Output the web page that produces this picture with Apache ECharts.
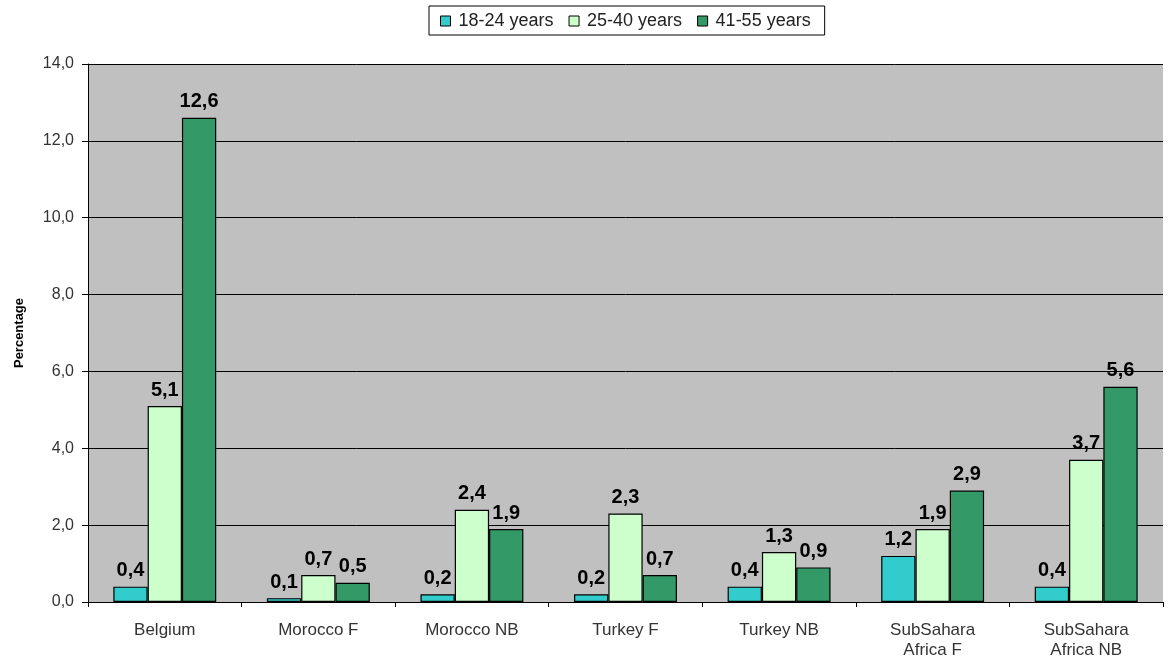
<!DOCTYPE html>
<html>
<head>
<meta charset="utf-8">
<script src="https://cdn.jsdelivr.net/npm/echarts@6/dist/echarts.min.js"></script>
<style>
  html, body { margin: 0; padding: 0; background: #ffffff; }
  #chart { width: 1168px; height: 660px; }
</style>
</head>
<body>
<div id="chart"></div>
<script>
// Categories and series values (percentages)
const categories = ['Belgium', 'Morocco F', 'Morocco NB', 'Turkey F', 'Turkey NB', 'SubSahara\nAfrica F', 'SubSahara\nAfrica NB'];
const seriesNames = ['18-24 years', '25-40 years', '41-55 years'];
const age18to24 = [0.4, 0.1, 0.2, 0.2, 0.4, 1.2, 0.4];
const age25to40 = [5.1, 0.7, 2.4, 2.3, 1.3, 1.9, 3.7];
const age41to55 = [12.6, 0.5, 1.9, 0.7, 0.9, 2.9, 5.6];
const colors = ['#33CCCC', '#CCFFCC', '#339966'];

const fmt = v => v.toFixed(1).replace('.', ',');
const FONT = '"Liberation Sans", Arial, sans-serif';

const chart = echarts.init(document.getElementById('chart'), null, { renderer: 'canvas' });

const makeSeries = (name, data, color) => ({
  name: name,
  type: 'bar',
  data: data,
  barGap: '0%',
  barCategoryGap: '33%',
  itemStyle: { color: color, borderColor: '#000000', borderWidth: 1.2 },
  label: {
    show: true,
    position: 'top',
    distance: 6,
    formatter: p => fmt(p.value),
    fontFamily: FONT,
    fontWeight: 'bold',
    fontSize: 20,
    color: '#000000'
  }
});

chart.setOption({
  animation: false,
  textStyle: { fontFamily: FONT },
  legend: {
    top: 6,
    left: 429,
    data: seriesNames,
    icon: 'rect',
    itemWidth: 10,
    itemHeight: 10,
    itemGap: 15,
    padding: [6, 14, 5, 11],
    borderColor: '#000000',
    borderWidth: 1,
    textStyle: { fontFamily: FONT, fontSize: 18, color: '#222222', padding: [0, 0, 0, 3] },
    itemStyle: { borderColor: '#000000', borderWidth: 1 }
  },
  grid: {
    left: 88, right: 5, top: 64, bottom: 58,
    show: true,
    backgroundColor: '#C0C0C0',
    borderWidth: 0
  },
  xAxis: {
    type: 'category',
    data: categories,
    axisLine: { show: true, lineStyle: { color: '#000000', width: 1 } },
    axisTick: { show: true, length: 5, alignWithLabel: false, lineStyle: { color: '#000000' } },
    axisLabel: { fontFamily: FONT, fontSize: 17, color: '#333333', margin: 18, lineHeight: 20, interval: 0 }
  },
  yAxis: {
    type: 'value',
    min: 0,
    max: 14,
    interval: 2,
    name: 'Percentage',
    nameLocation: 'middle',
    nameGap: 62,
    nameRotate: 90,
    nameTextStyle: { fontFamily: FONT, fontWeight: 'bold', fontSize: 13, color: '#000000' },
    axisLine: { show: true, lineStyle: { color: '#000000', width: 1 } },
    axisTick: { show: true, length: 6, lineStyle: { color: '#000000' } },
    axisLabel: { fontFamily: FONT, fontSize: 16, color: '#333333', margin: 14, formatter: v => fmt(v) },
    splitLine: { show: true, lineStyle: { color: '#000000', width: 1 } }
  },
  series: [
    makeSeries(seriesNames[0], age18to24, colors[0]),
    makeSeries(seriesNames[1], age25to40, colors[1]),
    makeSeries(seriesNames[2], age41to55, colors[2])
  ]
});
</script>
</body>
</html>
